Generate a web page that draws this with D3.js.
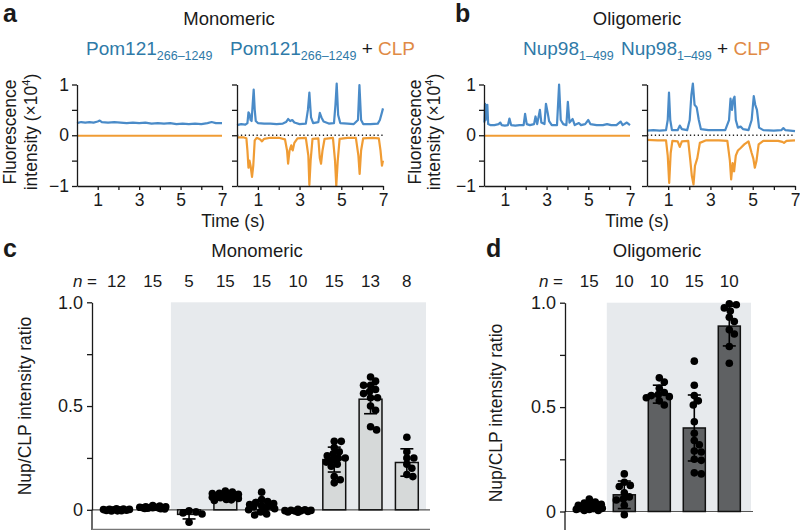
<!DOCTYPE html>
<html><head><meta charset="utf-8">
<script src="https://cdn.jsdelivr.net/npm/d3@7"></script>
<style>
body{margin:0;background:#fff}
svg{display:block}
text{font-family:"Liberation Sans",Arial,Helvetica,sans-serif;fill:#1a1a1a}
</style>
</head><body>
<svg id="fig" width="800" height="530"></svg>
<script>
// ---------------- DATA ----------------
const timeTicks = [1, 2, 3, 4, 5, 6, 7];
const timeLabels = [1, 3, 5, 7];
const intTicks = [-1, -0.5, 0, 0.5, 1];
const intLabels = [-1, 0, 1];
const ratioTicks = [0, 0.25, 0.5, 0.75, 1];
const ratioLabels = [0, 0.5, 1];

// Panel a, Pom121 alone [time s, intensity x1e4]
const aLeftBlue = [[0,0.24],[0.2,0.26],[0.4,0.25],[0.6,0.26],[0.8,0.25],[1.0,0.27],[1.1,0.29],[1.2,0.26],[1.5,0.25],[1.8,0.26],[2.1,0.25],[2.4,0.24],[2.7,0.25],[3.0,0.24],[3.3,0.25],[3.6,0.23],[3.9,0.24],[4.2,0.23],[4.5,0.24],[4.8,0.22],[5.1,0.23],[5.4,0.22],[5.7,0.23],[6.0,0.22],[6.3,0.24],[6.5,0.26],[6.7,0.24],[7.0,0.24]];
const aLeftOrange = [[0,-0.01],[3.5,-0.01],[7,-0.01]];
// Panel a, Pom121 + CLP
const aRightBlue = [[0,0.2],[0.2,0.22],[0.4,0.21],[0.5,0.24],[0.55,0.45],[0.6,0.42],[0.65,0.3],[0.7,0.28],[0.75,0.6],[0.8,0.9],[0.85,0.5],[0.9,0.28],[1.0,0.24],[1.3,0.23],[1.6,0.23],[1.9,0.22],[2.2,0.23],[2.35,0.26],[2.45,0.32],[2.55,0.28],[2.65,0.3],[2.75,0.25],[3.0,0.22],[3.3,0.23],[3.4,0.5],[3.47,0.84],[3.55,0.35],[3.65,0.24],[3.9,0.26],[3.97,0.44],[4.05,0.35],[4.15,0.27],[4.4,0.23],[4.65,0.24],[4.72,0.6],[4.78,1.02],[4.85,0.4],[4.95,0.24],[5.3,0.23],[5.6,0.22],[5.8,0.3],[5.87,0.99],[5.95,0.3],[6.05,0.22],[6.4,0.22],[6.75,0.23],[6.85,0.3],[6.95,0.45],[7.0,0.53]];
const aRightOrange = [[0,-0.04],[0.3,-0.04],[0.45,-0.06],[0.5,-0.3],[0.55,-0.64],[0.6,-0.5],[0.65,-0.6],[0.72,-0.82],[0.78,-0.6],[0.85,-0.1],[0.95,-0.05],[1.1,-0.08],[1.2,-0.12],[1.3,-0.07],[1.6,-0.05],[2.0,-0.05],[2.3,-0.08],[2.4,-0.3],[2.45,-0.56],[2.52,-0.3],[2.6,-0.2],[2.67,-0.3],[2.75,-0.15],[2.9,-0.06],[3.3,-0.05],[3.42,-0.4],[3.47,-0.98],[3.53,-0.5],[3.62,-0.07],[3.9,-0.06],[3.97,-0.45],[4.03,-0.56],[4.1,-0.3],[4.2,-0.07],[4.6,-0.05],[4.7,-0.5],[4.76,-1.0],[4.83,-0.5],[4.92,-0.07],[5.3,-0.05],[5.7,-0.05],[5.82,-0.4],[5.88,-0.76],[5.95,-0.3],[6.05,-0.06],[6.5,-0.05],[6.8,-0.06],[6.88,-0.3],[6.95,-0.6],[7.0,-0.5]];
// Panel b, Nup98 alone
const bLeftBlue = [[0.02,0.25],[0.05,0.62],[0.08,0.3],[0.12,0.58],[0.16,0.6],[0.2,0.22],[0.3,0.2],[0.5,0.2],[0.7,0.22],[0.78,0.25],[0.85,0.2],[1.0,0.19],[1.15,0.2],[1.22,0.33],[1.3,0.2],[1.5,0.19],[1.7,0.2],[1.9,0.2],[1.97,0.42],[2.05,0.22],[2.2,0.2],[2.4,0.22],[2.47,0.37],[2.55,0.22],[2.68,0.5],[2.75,0.25],[2.9,0.22],[2.97,0.62],[3.05,0.45],[3.12,0.28],[3.25,0.2],[3.5,0.2],[3.6,1.0],[3.68,0.3],[3.8,0.22],[3.95,0.2],[4.02,0.66],[4.1,0.25],[4.25,0.32],[4.35,0.2],[4.55,0.24],[4.65,0.2],[4.85,0.22],[5.0,0.3],[5.1,0.22],[5.4,0.2],[5.7,0.2],[5.9,0.22],[6.1,0.2],[6.35,0.2],[6.55,0.27],[6.65,0.2],[6.85,0.25],[7.0,0.2]];
const bLeftOrange = [[0.02,-0.01],[3.5,-0.01],[7,-0.01]];
// Panel b, Nup98 + CLP
const bRightBlue = [[0,0.09],[0.3,0.1],[0.6,0.09],[0.9,0.1],[0.98,0.3],[1.04,0.84],[1.1,0.3],[1.18,0.1],[1.45,0.1],[1.55,0.19],[1.65,0.12],[1.9,0.1],[2.02,0.3],[2.1,0.8],[2.17,1.02],[2.25,0.6],[2.35,0.55],[2.45,0.3],[2.55,0.12],[2.9,0.1],[3.3,0.1],[3.7,0.1],[3.88,0.3],[3.95,0.72],[4.02,0.5],[4.08,0.7],[4.14,0.76],[4.2,0.3],[4.3,0.15],[4.43,0.17],[4.55,0.12],[4.8,0.1],[4.95,0.3],[5.05,0.77],[5.12,0.6],[5.2,0.5],[5.3,0.15],[5.5,0.1],[6.0,0.09],[6.35,0.1],[6.45,0.14],[6.55,0.1],[7.0,0.08]];
const bRightOrange = [[0,-0.09],[0.5,-0.1],[0.9,-0.1],[0.98,-0.4],[1.05,-0.94],[1.12,-0.35],[1.2,-0.11],[1.45,-0.12],[1.55,-0.23],[1.65,-0.12],[1.95,-0.11],[2.05,-0.5],[2.12,-0.8],[2.2,-0.97],[2.27,-0.6],[2.38,-0.45],[2.5,-0.15],[2.8,-0.1],[3.4,-0.1],[3.8,-0.11],[3.92,-0.5],[3.98,-0.87],[4.05,-0.55],[4.12,-0.71],[4.2,-0.4],[4.3,-0.3],[4.43,-0.25],[4.6,-0.18],[4.8,-0.12],[4.95,-0.35],[5.03,-0.46],[5.1,-0.64],[5.18,-0.5],[5.28,-0.18],[5.5,-0.11],[6.2,-0.11],[6.4,-0.13],[6.48,-0.15],[6.6,-0.11],[7.0,-0.1]];

// Panel c, monomeric ratios
const monoN = [12, 15, 5, 15, 15, 10, 15, 13, 8];
const monoMean = [0.0, 0.01, -0.022, 0.065, 0.019, -0.005, 0.242, 0.533, 0.228];
const monoSD = [0.004, 0.005, 0.022, 0.014, 0.03, 0.004, 0.06, 0.07, 0.066];
const monoPoints = [
  [0.005,0.0,-0.005,0.003,-0.003,0.0,0.004,-0.006,0.002,-0.002,0.001,-0.004],
  [0.02,0.015,0.012,0.01,0.01,0.008,0.005,0.012,0.018,0.006,0.01,0.014,0.004,0.009,0.011],
  [-0.005,-0.01,-0.015,-0.02,-0.06],
  [0.09,0.085,0.08,0.078,0.075,0.07,0.068,0.065,0.062,0.06,0.058,0.055,0.05,0.048,0.045],
  [0.085,0.05,0.04,0.035,0.03,0.025,0.02,0.02,0.015,0.01,0.005,0.0,-0.01,-0.02,-0.025],
  [0.003,0.0,-0.002,-0.004,-0.006,-0.008,-0.01,-0.005,-0.003,-0.012],
  [0.33,0.33,0.30,0.28,0.27,0.26,0.25,0.25,0.24,0.23,0.22,0.21,0.16,0.145,0.13],
  [0.64,0.62,0.60,0.60,0.58,0.57,0.56,0.54,0.54,0.50,0.48,0.40,0.385],
  [0.35,0.28,0.25,0.25,0.22,0.2,0.17,0.16]
];
// Panel d, oligomeric ratios
const oligoN = [15, 10, 10, 15, 10];
const oligoMean = [0.024, 0.08, 0.562, 0.40, 0.888];
const oligoSD = [0.015, 0.066, 0.043, 0.158, 0.095];
const oligoPoints = [
  [0.06,0.045,0.04,0.035,0.03,0.03,0.025,0.02,0.02,0.015,0.015,0.01,0.01,0.005,0.005],
  [0.18,0.14,0.125,0.12,0.09,0.07,0.06,0.055,0.03,-0.015],
  [0.64,0.62,0.59,0.57,0.56,0.555,0.55,0.545,0.53,0.51],
  [0.72,0.605,0.555,0.53,0.51,0.43,0.375,0.34,0.32,0.29,0.285,0.25,0.245,0.185,0.18],
  [0.995,0.99,0.975,0.96,0.93,0.91,0.87,0.85,0.79,0.71]
];

// ---------------- STYLE ----------------
const BLUE = "#4a8bc8", ORANGE = "#f09c34";
const TBLUE = "#2f7aa8", TORANGE = "#e08a45";
const AX = "#1a1a1a";

const svg = d3.select("#fig");

function txt(x, y, s, size, opts = {}) {
  const t = svg.append("text").attr("x", x).attr("y", y).attr("font-size", size).text(s);
  if (opts.anchor) t.attr("text-anchor", opts.anchor);
  if (opts.weight) t.attr("font-weight", opts.weight);
  if (opts.fill) t.style("fill", opts.fill);
  if (opts.style) t.attr("font-style", opts.style);
  return t;
}

function subTitle(x, y, main, sub, withCLP) {
  const t = svg.append("text").attr("x", x).attr("y", y).attr("font-size", 19);
  t.append("tspan").text(main).style("fill", TBLUE);
  t.append("tspan").text(sub).attr("font-size", 12.5).attr("dy", 5).style("fill", TBLUE);
  if (withCLP) {
    t.append("tspan").text(" + ").attr("dy", -5).style("fill", "#1a1a1a");
    t.append("tspan").text("CLP").style("fill", TORANGE);
  }
}

function yTitle2(x1, x2, cy, l1, l2) {
  svg.append("text").attr("transform", `translate(${x1},${cy}) rotate(-90)`).attr("text-anchor", "middle").attr("font-size", 17.5).text(l1);
  const t = svg.append("text").attr("transform", `translate(${x2},${cy}) rotate(-90)`).attr("text-anchor", "middle").attr("font-size", 17.5);
  t.append("tspan").text("intensity (\u00d710");
  t.append("tspan").text("4").attr("font-size", 11).attr("dy", -7);
  t.append("tspan").text(")").attr("dy", 7);
}

function styleAxis(g, fs) {
  g.selectAll("path.domain").attr("stroke", AX).attr("stroke-width", 1.3);
  g.selectAll(".tick line").attr("stroke", AX).attr("stroke-width", 1.3);
  g.selectAll(".tick text").attr("font-size", fs).attr("font-family", '"Liberation Sans",Arial,sans-serif').style("fill", "#1a1a1a");
}

// ---------------- TRACE PANELS ----------------
const yTrace = d3.scaleLinear().domain([-1, 1]).range([186, 84.5]);
function tracePanel(xr, blue, orange, showY, dotted) {
  const x = d3.scaleLinear().domain([0, 7]).range(xr);
  const g = svg.append("g");
  const line = d3.line().x(d => x(d[0])).y(d => yTrace(d[1]));
  if (dotted) {
    g.append("line").attr("x1", x(0)).attr("x2", x(7)).attr("y1", yTrace(0)).attr("y2", yTrace(0))
      .attr("stroke", "#222").attr("stroke-width", 1.3).attr("stroke-dasharray", "1.3,2.6");
  }
  g.append("path").attr("d", line(orange)).attr("fill", "none").attr("stroke", ORANGE).attr("stroke-width", 2.2).attr("stroke-linejoin", "round");
  g.append("path").attr("d", line(blue)).attr("fill", "none").attr("stroke", BLUE).attr("stroke-width", 2.2).attr("stroke-linejoin", "round");
  const ya = g.append("g").attr("transform", `translate(${x(0)},0)`)
    .call(d3.axisLeft(yTrace).tickValues(intTicks).tickSize(5).tickSizeOuter(0).tickPadding(3)
      .tickFormat(d => showY && intLabels.includes(d) ? d3.format("d")(d) : ""));
  styleAxis(ya, 17.5);
  const xa = g.append("g").attr("transform", `translate(0,${yTrace(-1)})`)
    .call(d3.axisBottom(x).tickValues(timeTicks).tickSize(4).tickSizeOuter(0).tickPadding(4)
      .tickFormat(d => timeLabels.includes(d) ? d : ""));
  styleAxis(xa, 17.5);
}
tracePanel([77, 222], aLeftBlue, aLeftOrange, true, false);
tracePanel([237, 383], aRightBlue, aRightOrange, false, true);
tracePanel([484, 630], bLeftBlue, bLeftOrange, true, false);
tracePanel([647, 795], bRightBlue, bRightOrange, false, true);

// labels top row
txt(3, 22, "a", 25, {weight: "bold"});
txt(455, 22, "b", 25, {weight: "bold"});
txt(229, 25, "Monomeric", 18.5, {anchor: "middle"});
txt(637, 25, "Oligomeric", 18.5, {anchor: "middle"});
subTitle(86, 55, "Pom121", "266\u20131249", false);
subTitle(230, 55, "Pom121", "266\u20131249", true);
subTitle(523, 55, "Nup98", "1\u2013499", false);
subTitle(621, 55, "Nup98", "1\u2013499", true);
yTitle2(16, 37, 132, "Fluorescence", "intensity");
yTitle2(421, 440, 132, "Fluorescence", "intensity");
txt(233, 227, "Time (s)", 17.5, {anchor: "middle"});
txt(637, 227, "Time (s)", 17.5, {anchor: "middle"});

// ---------------- BAR PANELS ----------------
function swarm(vals, cx, ys, halfW, minD) {
  const pts = vals.map(v => ({v, y: ys(v)})).sort((a, b) => b.v - a.v);
  const placed = [];
  const offs = [0];
  for (let i = 1; i <= halfW; i++) { offs.push(i); offs.push(-i); }
  pts.forEach(p => {
    let best = null, bestD = -1;
    for (const o of offs) {
      let md = Infinity;
      for (const q of placed) { const d = Math.hypot(q.x - (cx + o), q.y - p.y); if (d < md) md = d; }
      if (md >= minD) { best = o; bestD = md; break; }
      if (md > bestD) { bestD = md; best = o; }
    }
    p.x = cx + best;
    placed.push(p);
  });
  return placed;
}

function barPanel(cfg) {
  const {n, mean, sd, points, xr, yr, axisX, shadeFrom, shadeTo, fill, zeroTo, bottomLine} = cfg;
  const idx = d3.range(n.length);
  const x = d3.scaleBand().domain(idx).range(xr).paddingInner(0.37).paddingOuter(0.185);
  const y = d3.scaleLinear().domain([0, 1]).range(yr);
  const g = svg.append("g");
  const pad = x.step() * 0.37 / 2;
  g.append("rect").attr("x", x(shadeFrom) - pad).attr("y", y(1)).attr("width", shadeTo - (x(shadeFrom) - pad))
    .attr("height", y(0) - y(1)).attr("fill", "#e7eaed");
  g.append("line").attr("x1", axisX).attr("x2", zeroTo).attr("y1", y(0)).attr("y2", y(0)).attr("stroke", "#555").attr("stroke-width", 1.2);
  // bars
  g.selectAll("rect.bar").data(idx).join("rect").attr("class", "bar")
    .attr("x", i => x(i)).attr("width", x.bandwidth())
    .attr("y", i => Math.min(y(mean[i]), y(0))).attr("height", i => Math.abs(y(mean[i]) - y(0)))
    .attr("fill", fill).attr("stroke", "#111").attr("stroke-width", 1.5);
  // dots
  idx.forEach(i => {
    const cx = x(i) + x.bandwidth() / 2;
    const pts = swarm(points[i], cx, y, 13, 6.2);
    g.selectAll(null).data(pts).join("circle").attr("cx", d => d.x).attr("cy", d => d.y).attr("r", 3.8).attr("fill", "#000");
  });
  // error bars
  idx.forEach(i => {
    const cx = x(i) + x.bandwidth() / 2;
    const top = y(mean[i] + sd[i]), bot = y(mean[i] - sd[i]);
    g.append("line").attr("x1", cx).attr("x2", cx).attr("y1", top).attr("y2", bot).attr("stroke", "#000").attr("stroke-width", 1.6);
    [top, bot].forEach(yy => g.append("line").attr("x1", cx - 6.5).attr("x2", cx + 6.5).attr("y1", yy).attr("y2", yy).attr("stroke", "#000").attr("stroke-width", 1.6));
  });
  // n labels
  idx.forEach(i => txt(x(i) + x.bandwidth() / 2, 287, String(n[i]), 17, {anchor: "middle"}));
  // y axis
  const ya = g.append("g").attr("transform", `translate(${axisX},0)`)
    .call(d3.axisLeft(y).tickValues(ratioTicks).tickSize(5).tickSizeOuter(0).tickPadding(4)
      .tickFormat(d => ratioLabels.includes(d) ? (d === 0 ? "0" : d3.format(".1f")(d)) : ""));
  styleAxis(ya, 18);
  g.append("line").attr("x1", axisX).attr("x2", axisX).attr("y1", y(0)).attr("y2", 531).attr("stroke", AX).attr("stroke-width", 1.3);
  if (bottomLine) g.append("line").attr("x1", axisX).attr("x2", zeroTo).attr("y1", 529.3).attr("y2", 529.3).attr("stroke", "#777").attr("stroke-width", 1.3);
  return x;
}

barPanel({n: monoN, mean: monoMean, sd: monoSD, points: monoPoints, xr: [98.3, 425], yr: [509.8, 302.3],
  axisX: 92, shadeFrom: 2, shadeTo: 426, fill: "#d6d9d9", zeroTo: 430, bottomLine: true});
barPanel({n: oligoN, mean: oligoMean, sd: oligoSD, points: oligoPoints, xr: [571.8, 746.8], yr: [511.5, 302.7],
  axisX: 565, shadeFrom: 1, shadeTo: 751, fill: "#5f6163", zeroTo: 753, bottomLine: false});

txt(3, 257, "c", 25, {weight: "bold"});
txt(486, 257, "d", 25, {weight: "bold"});
txt(257, 257, "Monomeric", 18.5, {anchor: "middle"});
txt(657, 257, "Oligomeric", 18.5, {anchor: "middle"});
const n1 = svg.append("text").attr("x", 97).attr("y", 287).attr("font-size", 17).attr("text-anchor", "end");
n1.append("tspan").text("n").attr("font-style", "italic"); n1.append("tspan").text(" =");
const n2 = svg.append("text").attr("x", 563).attr("y", 287).attr("font-size", 17).attr("text-anchor", "end");
n2.append("tspan").text("n").attr("font-style", "italic"); n2.append("tspan").text(" =");
svg.append("text").attr("transform", "translate(31,406) rotate(-90)").attr("text-anchor", "middle").attr("font-size", 17.5).text("Nup/CLP intensity ratio");
svg.append("text").attr("transform", "translate(502,413) rotate(-90)").attr("text-anchor", "middle").attr("font-size", 17.5).text("Nup/CLP intensity ratio");
</script>
</body></html>
